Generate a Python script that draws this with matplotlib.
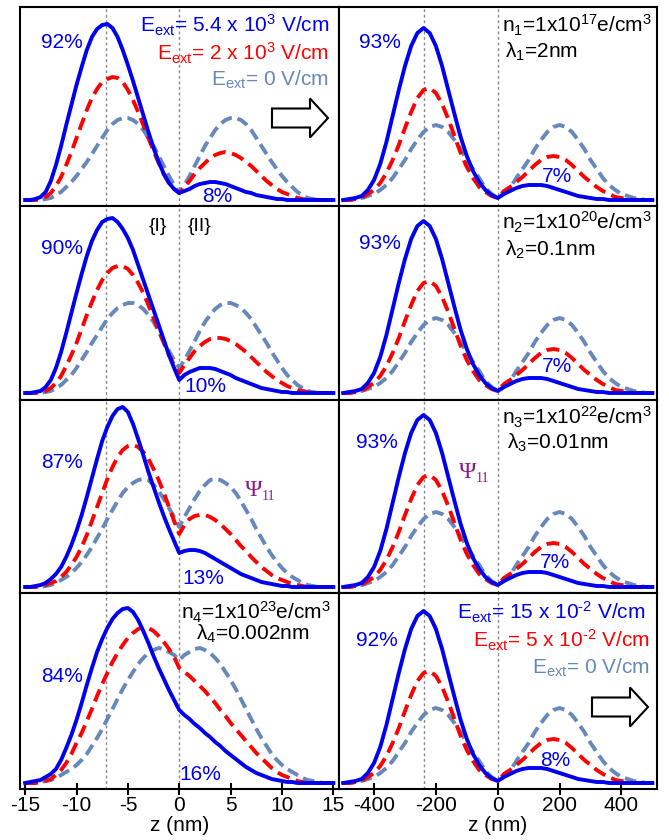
import matplotlib
matplotlib.use('Agg')
import matplotlib.pyplot as plt
import numpy as np
from matplotlib.patches import FancyArrow

plt.rcParams['font.family'] = ['Liberation Sans', 'DejaVu Sans']
plt.rcParams['mathtext.fontset'] = 'custom'
plt.rcParams['mathtext.rm'] = 'Liberation Sans'
plt.rcParams['mathtext.it'] = 'Liberation Sans:italic'
plt.rcParams['mathtext.bf'] = 'Liberation Sans:bold'

# ---------------- data ----------------
z_left = np.arange(-15, 15.01, 0.5)       # nm (61 points)
z_right = np.arange(-500, 501, 20)        # nm (51 points)

# left column, rows 1..4: blue = strong field, red = medium field, grey = zero field
p1_blue = [0,0,1,3,8,19,35,54,75,95,
           115,133,150,163,171,175,176,172,163,150,
           135,119,102,85,68,52,38,26,17,11,
           7,9,11,14,16,17,18,18,17,16,
           14,12,10,8,7,5,4,3,2,1,
           1,0,0,0,0,0,0,0,0,0,0]
p1_red = [0,0,0,1,3,7,14,23,35,48,
          62,76,90,102,111,118,121,123,122,118,
          110,100,88,75,62,49,37,26,17,11,
          7,13,19,26,32,37,42,45,47,48,
          47,45,42,38,34,29,24,19,15,11,
          8,6,4,2,1,0,0,0,0,0,0]
p1_grey = [0,0,0,0,1,2,5,8,13,18,
           24,31,38,46,54,62,70,76,80,82,
           82,80,76,70,62,54,44,34,24,15,
           7,15,24,34,44,54,62,70,76,80,
           82,82,80,76,70,62,54,46,38,31,
           24,18,13,8,5,2,1,0,0,0,0]

p2_blue = [0,0,1,2,6,13,25,41,60,80,
           100,119,137,152,163,171,174,175,171,164,
           155,143,128,113,98,83,68,53,38,25,
           13,18,21,23,25,25,25,24,22,20,
           18,15,13,11,9,7,5,4,3,2,
           1,1,0,0,0,0,0,0,0,0,0]
p2_red = [0,0,0,1,2,5,10,17,27,38,
          50,64,78,91,103,113,120,125,127,127,
          124,118,110,100,88,75,62,50,38,28,
          20,28,35,42,47,51,54,55,55,54,
          52,49,45,41,36,31,26,21,17,13,
          10,7,5,3,2,1,0,0,0,0,0]
p2_grey = [0,0,0,0,1,2,5,8,13,18,
           25,33,41,50,58,66,74,80,85,88,
           90,90,88,84,78,71,62,52,42,33,
           25,33,42,52,62,71,78,84,88,90,
           90,88,85,80,74,66,58,50,41,33,
           25,18,13,8,5,2,1,0,0,0,0]

p3_blue = [0,0,1,2,4,8,13,20,30,42,
           56,72,90,109,128,146,160,171,178,180,
           175,163,148,132,115,100,85,71,58,46,
           34,36,37,37,36,34,31,28,25,22,
           19,16,13,11,9,7,5,4,3,2,
           1,1,0,0,0,0,0,0,0,0,0]
p3_red = [0,0,0,1,2,4,6,10,15,22,
          30,40,52,66,80,94,108,120,130,137,
          141,142,140,135,128,118,107,94,80,66,
          53,62,68,71,72,72,70,67,63,58,
          53,47,41,36,30,25,20,16,12,9,
          7,5,3,2,1,0,0,0,0,0,0]
p3_grey = [0,0,0,0,1,2,4,7,10,14,
           19,25,32,40,49,58,68,77,86,94,
           100,104,107,108,107,102,96,88,79,70,
           60,70,79,88,96,102,107,108,107,104,
           100,94,86,77,68,58,49,40,32,25,
           19,14,10,7,4,2,1,0,0,0,0]

p4_blue = [0,1,2,3,6,9,14,23,35,48,
           63,80,98,115,131,144,155,164,170,174,
           175,171,163,152,140,127,115,104,93,83,
           73,68,64,59,55,50,46,41,37,32,
           28,24,20,16,13,10,8,6,4,3,
           2,1,1,0,0,0,0,0,0,0,0]
p4_red = [0,0,0,1,2,4,8,13,20,29,
          40,50,62,74,87,99,110,121,130,138,
          145,150,154,156,155,152,147,141,134,126,
          115,111,107,102,97,92,86,80,73,67,
          60,54,48,42,36,30,25,20,15,11,
          8,6,4,2,1,0,0,0,0,0,0]
p4_grey = [0,0,0,1,2,3,5,8,11,14,
           18,23,29,37,45,54,64,74,84,94,
           103,111,119,125,130,133,135,134,131,128,
           123,128,131,134,135,133,130,125,119,111,
           103,94,84,74,64,54,45,37,29,23,
           18,14,11,8,5,3,2,1,0,0,0]

# right column (same shape in all four rows)
r_blue = [0,1,2,4,10,20,36,58,84,110,134,154,167,172,167,154,134,110,86,63,44,29,18,10,5,2,
          6,9,12,14,15,15,15,14,12,10,8,6,4,3,2,1,1,0,0,0,0,0,0,0,0]
r_red = [0,0,1,2,6,10,17,27,40,55,72,88,102,110,112,107,96,81,64,47,33,22,13,8,4,2,
         9,13,18,23,29,35,40,43,44,43,40,35,29,23,18,13,9,6,3,2,1,0,0,0,0]
r_grey = [0,0,1,2,4,6,10,15,22,31,40,51,60,68,73,75,73,68,60,51,40,31,22,12,6,2,
          6,12,22,31,40,51,60,68,73,75,73,68,60,51,40,31,22,15,10,6,4,2,1,0,0]

left_sets = [(p1_blue, p1_red, p1_grey), (p2_blue, p2_red, p2_grey),
             (p3_blue, p3_red, p3_grey), (p4_blue, p4_red, p4_grey)]
right_sets = [(r_blue, r_red, r_grey)] * 4

left_pct = [("92%", "8%"), ("90%", "10%"), ("87%", "13%"), ("84%", "16%")]
right_pct = [("93%", "7%"), ("93%", "7%"), ("93%", "7%"), ("92%", "8%")]

left_ticks = [-15, -10, -5, 0, 5, 10, 15]
right_ticks = [-400, -200, 0, 200, 400]
left_wells = [-7.1, 0]
right_wells = [-240, 0]

# ---------------- style ----------------
BLUE = '#0000F0'
RED = '#FF0000'
GREY = '#6688BB'
W, H = 669, 840

fig = plt.figure(figsize=(W / 100, H / 100), dpi=100)
gs = fig.add_gridspec(4, 2, left=20 / W, right=657 / W, top=1 - 7 / H, bottom=1 - 789 / H,
                      wspace=0, hspace=0, height_ratios=[199, 194, 193, 196])
ylims = [(-6, 193), (-7, 187), (-6, 187), (-6, 190)]


def px(x, y):
    return x / W, 1 - y / H


for r in range(4):
    for c in range(2):
        ax = fig.add_subplot(gs[r, c])
        if c == 0:
            z = z_left
            b, rd, g = left_sets[r]
            ax.set_xlim(-15.5, 15.5)
            wells = left_wells
            ticks = left_ticks
        else:
            z = z_right
            b, rd, g = right_sets[r]
            ax.set_xlim(-515, 515)
            wells = right_wells
            ticks = right_ticks
        for w in wells:
            ax.axvline(w, color='#888888', lw=1.0, ls=(0, (2, 2)), zorder=0)
        ax.plot(z, g, color=GREY, lw=2.8, ls=(0, (3.0, 1.5)), zorder=2)
        ax.plot(z, rd, color=RED, lw=2.8, ls=(0, (3.3, 1.7)), zorder=3)
        ax.plot(z, b, color=BLUE, lw=2.8, zorder=4, solid_joinstyle='round')
        ax.set_ylim(*ylims[r])
        ax.set_yticks([])
        for s in ax.spines.values():
            s.set_linewidth(1.5)
        if r == 3:
            ax.set_xticks(ticks)
            ax.set_xticklabels([str(t) for t in ticks])
            ax.tick_params(axis='x', direction='inout', length=8, width=1.5,
                           labelsize=15, pad=1)
            ax.set_xlabel('z (nm)', fontsize=15, labelpad=1)
        else:
            ax.set_xticks([])

# percentage labels
pct_pos_left = [((62, 43), (217, 197)), ((62, 248), (205, 387)),
                ((62, 462), (203, 579)), ((62, 677), (200, 775))]
pct_pos_right = [((380, 43), (557, 177)), ((380, 243), (557, 367)),
                 ((377, 442), (555, 562)), ((377, 640), (555, 760))]
for (a, bb), (p1, p2) in zip(left_pct, pct_pos_left):
    fig.text(*px(*p1), a, color=BLUE, fontsize=15, ha='center', va='center')
    fig.text(*px(*p2), bb, color=BLUE, fontsize=15, ha='center', va='center')
for (a, bb), (p1, p2) in zip(right_pct, pct_pos_right):
    fig.text(*px(*p1), a, color=BLUE, fontsize=15, ha='center', va='center')
    fig.text(*px(*p2), bb, color=BLUE, fontsize=15, ha='center', va='center')

# field legends
fig.text(*px(329, 25), r'E$_{\mathrm{ext}}$= 5.4 x 10$^{3}$ V/cm', color=BLUE, fontsize=15,
         ha='right', va='center')
fig.text(*px(329, 53), r'E$_{\mathrm{ext}}$= 2 x 10$^{3}$ V/cm', color=RED, fontsize=15,
         ha='right', va='center')
fig.text(*px(329, 80), r'E$_{\mathrm{ext}}$= 0 V/cm', color=GREY, fontsize=15,
         ha='right', va='center')

fig.text(*px(645, 612), 'E$_{\\mathrm{ext}}$= 15 x 10$^{\u2010 2}$ V/cm', color=BLUE, fontsize=15,
         ha='right', va='center')
fig.text(*px(650, 640), 'E$_{\\mathrm{ext}}$= 5 x 10$^{\u2010 2}$ V/cm', color=RED, fontsize=15,
         ha='right', va='center')
fig.text(*px(650, 668), r'E$_{\mathrm{ext}}$= 0 V/cm', color=GREY, fontsize=15,
         ha='right', va='center')

# density / screening labels
fig.text(*px(502, 25), r'n$_1$=1x10$^{17}$e/cm$^3$', fontsize=15, ha='left', va='center')
fig.text(*px(505, 52), r'λ$_1$=2nm', fontsize=15, ha='left', va='center')
fig.text(*px(502, 222), r'n$_2$=1x10$^{20}$e/cm$^3$', fontsize=15, ha='left', va='center')
fig.text(*px(505, 250), r'λ$_2$=0.1nm', fontsize=15, ha='left', va='center')
fig.text(*px(502, 417), r'n$_3$=1x10$^{22}$e/cm$^3$', fontsize=15, ha='left', va='center')
fig.text(*px(507, 443), r'λ$_3$=0.01nm', fontsize=15, ha='left', va='center')
fig.text(*px(256, 612), r'n$_4$=1x10$^{23}$e/cm$^3$', fontsize=15, ha='center', va='center')
fig.text(*px(253, 634), r'λ$_4$=0.002nm', fontsize=15, ha='center', va='center')

# region labels
fig.text(*px(158, 227), '{I}', fontsize=14, ha='center', va='center')
fig.text(*px(200, 227), '{II}', fontsize=14, ha='center', va='center')

# Psi_11 labels
PURPLE = '#8B1A8B'
for (x, y) in [(254, 490), (468, 472)]:
    fig.text(*px(x, y), 'Ψ', color=PURPLE, fontsize=17, family='Liberation Serif',
             ha='center', va='center')
    fig.text(*px(x + 8, y + 7), '11', color=PURPLE, fontsize=10, family='Liberation Serif',
             ha='left', va='center')

# hollow arrows
for (x0, yc) in [(272, 118), (592, 707)]:
    arr = FancyArrow(x0 / W, 1 - yc / H, 56 / W, 0, width=19 / H, head_width=39 / H,
                     head_length=18 / W, length_includes_head=True,
                     transform=fig.transFigure, facecolor='white', edgecolor='black', lw=1.5)
    fig.add_artist(arr)

fig.savefig('out.png', dpi=100)
